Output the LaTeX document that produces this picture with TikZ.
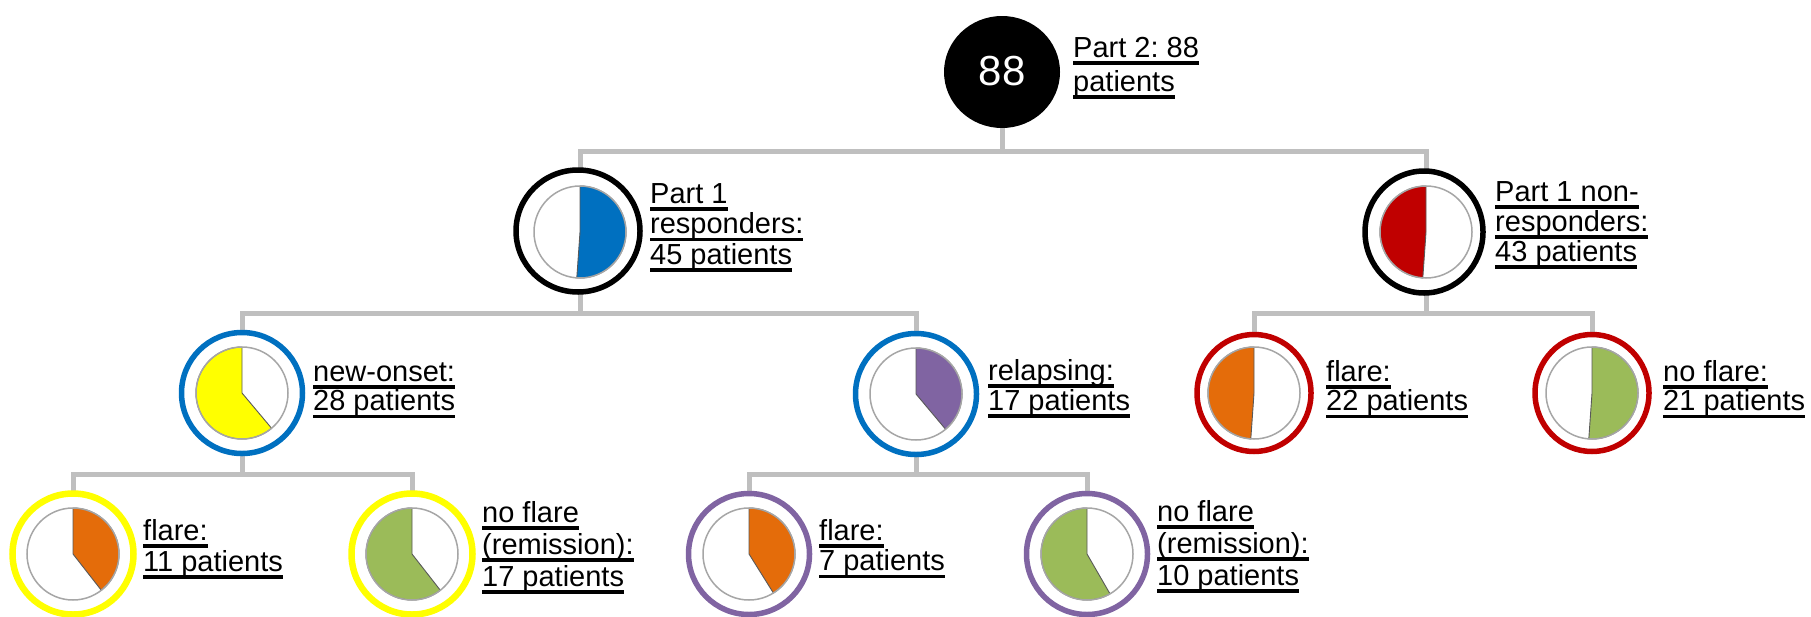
\documentclass[tikz,border=0pt]{standalone}
\usepackage{fontspec}
\setmainfont{Liberation Sans}
\usetikzlibrary{shapes.geometric,backgrounds}
\frenchspacing

\definecolor{respblue}{HTML}{0070C0}
\definecolor{nonred}{HTML}{C00000}
\definecolor{onsetyellow}{HTML}{FFFF00}
\definecolor{relpurple}{HTML}{8064A2}
\definecolor{flareorange}{HTML}{E46C0A}
\definecolor{remgreen}{HTML}{9BBB59}
\definecolor{conngray}{HTML}{BFBFBF}
\definecolor{rimgray}{HTML}{A6A6A6}
\definecolor{edgegray}{HTML}{595959}

% underlined word group with a heavy rule
\newlength\ulwd
\newcommand\ulbox[1]{\settowidth\ulwd{#1}\rlap{\rule[-7.5pt]{\ulwd}{3.5pt}}#1}
% stacked label lines: #1 = line distance, #2 = lines
\newcommand\stacklines[2]{\fontsize{29}{#1}\selectfont\begin{tabular}[t]{@{}l@{}}#2\end{tabular}}

% small pie chart: centre, colour, start angle, end angle
\newcommand\piechart[4]{%
  \fill[white] (#1) circle[radius=46];
  \filldraw[fill=#2, draw=edgegray, line width=0.9] (#1) -- ++(#3:46)
    arc[start angle=#3, end angle=#4, radius=46] -- cycle;
  \draw[rimgray, line width=1.5] (#1) circle[radius=46];
}

\tikzset{
  ring/.style={ellipse, fill=white, line width=5.5, inner sep=0,
    minimum width=121, minimum height=121},
  conn/.style={conngray, line width=5, line join=miter, line cap=rect},
  lbl/.style={anchor=base west, inner sep=0, text=black},
}

\begin{document}
\begin{tikzpicture}[x=1pt, y=1pt]
\useasboundingbox (0,0) rectangle (1811,-616);

% ---- root ----
\node[ellipse, fill=black, inner sep=0, minimum width=116, minimum height=112] (top) at (1002,-72) {};
\node[anchor=base, inner sep=0, text=white, font=\fontsize{42}{42}\selectfont] (n88) at (1002,-85) {88};
\node[lbl] (ltop) at (1073,-57) {\stacklines{34}{\ulbox{Part 2: 88}\\\ulbox{patients}}};

% ---- part 1 groups ----
\coordinate (pA) at (580,-232);
\node[ring, draw=black, minimum width=124, minimum height=122] (A) at (578,-231) {};
\coordinate (pB) at (1426,-232);
\node[ring, draw=black, minimum width=118, minimum height=122] (B) at (1424,-232) {};
\node[lbl] (lA) at (650,-203) {\stacklines{30.5}{\ulbox{Part 1}\\\ulbox{responders:}\\\ulbox{45 patients}}};
\node[lbl] (lB) at (1495,-201) {\stacklines{30}{\ulbox{Part 1 non-}\\\ulbox{responders:}\\\ulbox{43 patients}}};

% ---- responders split ----
\coordinate (pC) at (242,-393);
\node[ring, draw=respblue] (C) at (pC) {};
\coordinate (pD) at (916,-394);
\node[ring, draw=respblue] (D) at (pD) {};
\node[lbl] (lC) at (313,-381) {\stacklines{29}{\ulbox{new-onset:}\\\ulbox{28 patients}}};
\node[lbl] (lD) at (988,-380) {\stacklines{30}{\ulbox{relapsing:}\\\ulbox{17 patients}}};

% ---- non-responders split ----
\coordinate (pE) at (1254,-393);
\node[ring, draw=nonred, minimum width=114, minimum height=117] (E) at (pE) {};
\coordinate (pF) at (1592,-393);
\node[ring, draw=nonred, minimum width=114, minimum height=117] (F) at (pF) {};
\node[lbl] (lE) at (1326,-381) {\stacklines{29}{\ulbox{flare:}\\\ulbox{22 patients}}};
\node[lbl] (lF) at (1663,-381) {\stacklines{29}{\ulbox{no flare:}\\\ulbox{21 patients}}};

% ---- outcomes ----
\coordinate (pG) at (73,-554);
\node[ring, draw=onsetyellow, line width=6.5] (G) at (pG) {};
\coordinate (pH) at (412,-554);
\node[ring, draw=onsetyellow, line width=6.5] (H) at (pH) {};
\coordinate (pI) at (749,-554);
\node[ring, draw=relpurple] (I) at (pI) {};
\coordinate (pJ) at (1087,-554);
\node[ring, draw=relpurple] (J) at (pJ) {};
\node[lbl] (lG) at (143,-540) {\stacklines{31}{\ulbox{flare:}\\\ulbox{11 patients}}};
\node[lbl] (lH) at (482,-522) {\stacklines{32}{\ulbox{no flare}\\\ulbox{(remission):}\\\ulbox{17 patients}}};
\node[lbl] (lI) at (819,-540) {\stacklines{30.5}{\ulbox{flare:}\\\ulbox{7 patients}}};
\node[lbl] (lJ) at (1157,-521) {\stacklines{32}{\ulbox{no flare}\\\ulbox{(remission):}\\\ulbox{10 patients}}};

% ---- pies ----
\piechart{pA}{respblue}{90}{-94}
\piechart{pB}{nonred}{90}{266}
\piechart{pC}{onsetyellow}{90}{310}
\piechart{pD}{relpurple}{90}{-50}
\piechart{pE}{flareorange}{90}{266}
\piechart{pF}{remgreen}{90}{-94}
\piechart{pG}{flareorange}{90}{-52}
\piechart{pH}{remgreen}{90}{308}
\piechart{pI}{flareorange}{90}{-58}
\piechart{pJ}{remgreen}{90}{300}

% ---- tree connectors ----
\begin{scope}[on background layer]
  \fill[white] (0,0) rectangle (1811,-616);
  \coordinate (bus0) at (0,-151);
  \coordinate (bus1) at (0,-313);
  \coordinate (bus2) at (0,-474);
  \draw[conn] (top.center) -- (top.center |- bus0) -| (pA);
  \draw[conn] (top.center) -- (top.center |- bus0) -| (pB);
  \draw[conn] (pA) -- (pA |- bus1) -| (pC);
  \draw[conn] (pA) -- (pA |- bus1) -| (pD);
  \draw[conn] (pB) -- (pB |- bus1) -| (pE);
  \draw[conn] (pB) -- (pB |- bus1) -| (pF);
  \draw[conn] (pC) -- (pC |- bus2) -| (pG);
  \draw[conn] (pC) -- (pC |- bus2) -| (pH);
  \draw[conn] (pD) -- (pD |- bus2) -| (pI);
  \draw[conn] (pD) -- (pD |- bus2) -| (pJ);
\end{scope}
\end{tikzpicture}
\end{document}
